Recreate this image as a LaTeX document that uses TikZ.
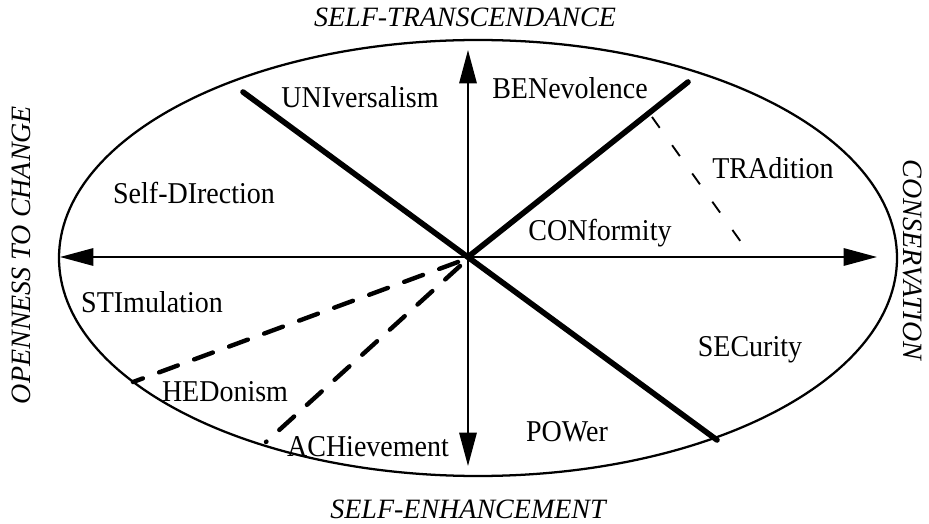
\documentclass[tikz,border=0pt]{standalone}
\usepackage{fontspec}
\setmainfont{Liberation Serif}
\usetikzlibrary{arrows.meta}
\begin{document}
\begin{tikzpicture}[x=0.75pt,y=-0.75pt,
  value/.style={font=\fontsize{21}{24}\selectfont, inner sep=0pt, yscale=1.08},
  pole/.style={font=\fontsize{21}{24}\selectfont\itshape, inner sep=0pt},
  axis/.style={line width=1.5pt, -{Triangle[length=25pt,width=13pt]}},
  divider/.style={line width=4.2pt, line cap=round},
  split/.style={line width=3.3pt, line cap=round, dash pattern=on 15pt off 13pt},
  thinsplit/.style={line width=1.4pt, dash pattern=on 10pt off 16pt}]
\useasboundingbox (0,0) rectangle (929,524);
% outer circle of values
\draw[line width=1.7pt] (478,258) ellipse [x radius=419, y radius=218];
% centre and axis ends
\coordinate (O) at (468,257);
\coordinate (L) at (60,257);
\coordinate (R) at (877,257);
\coordinate (T) at (468,50);
\coordinate (B) at (468,466);
\draw[axis] (O) -- (L);
\draw[axis] (O) -- (R);
\draw[axis] (O) -- (T);
\draw[axis] (O) -- (B);
% main dividing lines
\coordinate (D1) at (243,92);
\coordinate (D2) at (717,440);
\coordinate (D3) at (688,82);
\draw[divider] (D1) -- (D2);
\draw[divider] (O) -- (D3);
% tradition / conformity split
\coordinate (T1) at (652,117);
\coordinate (T2) at (741,242);
\draw[thinsplit] (T1) -- (T2);
% hedonism splits
\coordinate (H0) at (458,262);
\coordinate (H1) at (133,382);
\coordinate (A0) at (460,266);
\coordinate (A1) at (266,442);
\draw[split] (H0) -- (H1);
\draw[split] (A0) -- (A1);
% value labels
\node[value] (uni) at (360,97) {UNIversalism};
\node[value] (ben) at (570,88) {BENevolence};
\node[value] (tra) at (773,168) {TRAdition};
\node[value] (sdi) at (194,193) {Self-DIrection};
\node[value] (con) at (600,233) {CONformity};
\node[value] (sti) at (152,302) {STImulation};
\node[value] (sec) at (750,350) {SECurity};
\node[value] (hed) at (225,392) {HEDonism};
\node[value] (pow) at (567,432) {POWer};
\node[value] (ach) at (368,447) {ACHievement};
% higher order poles
\node[pole] (st) at (465,17) {SELF-TRANSCENDANCE};
\node[pole] (se) at (468,509) {SELF-ENHANCEMENT};
\node[pole, rotate=90] (oc) at (21,255) {OPENNESS TO CHANGE};
\node[pole, rotate=-90] (cs) at (913,260) {CONSERVATION};
\end{tikzpicture}
\end{document}
